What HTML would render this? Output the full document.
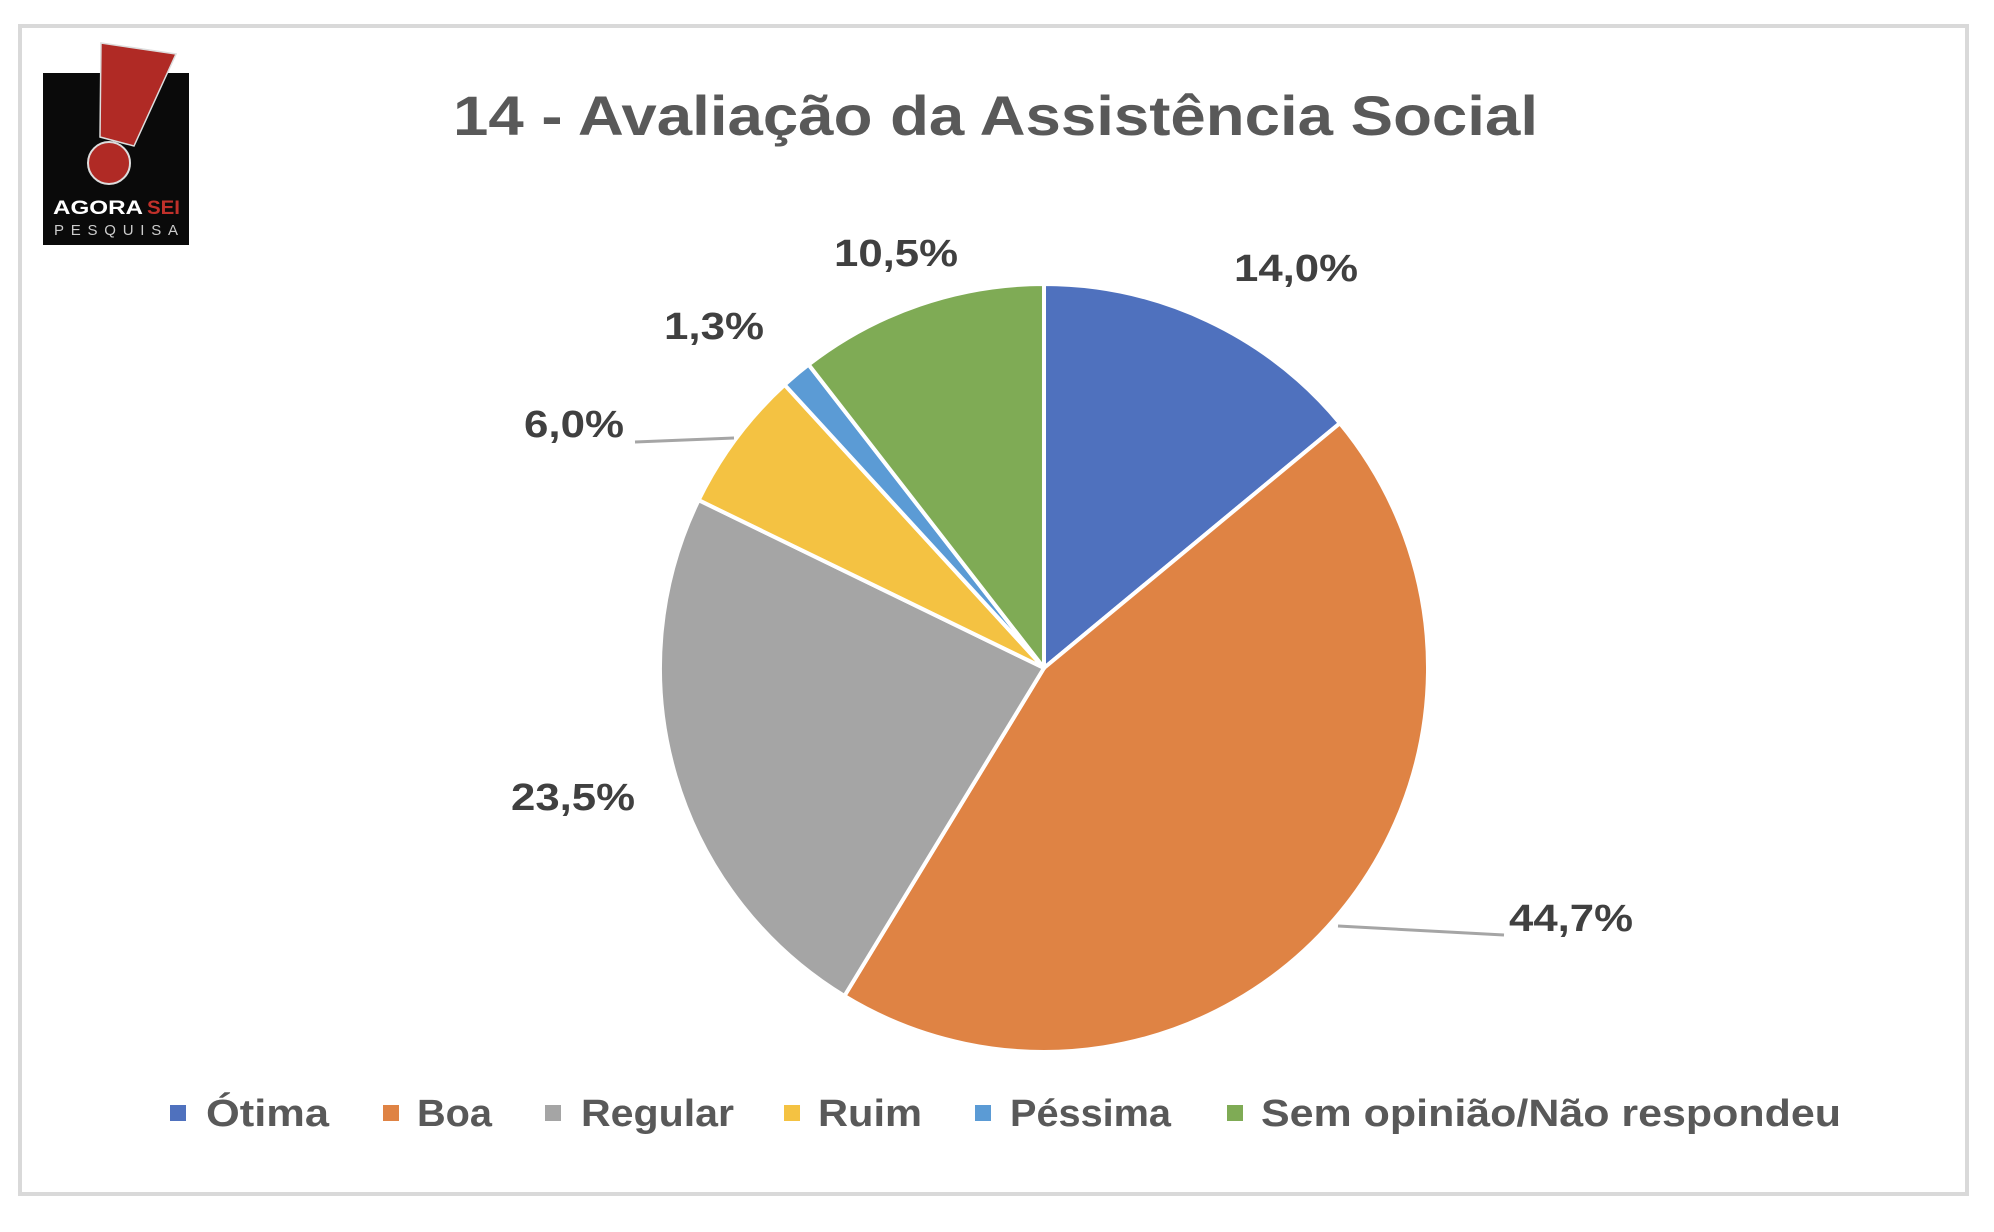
<!DOCTYPE html>
<html><head><meta charset="utf-8"><style>
html,body{margin:0;padding:0;background:#fff;}
svg{display:block;}
text{font-family:"Liberation Sans",sans-serif;}
</style></head><body>
<svg width="1994" height="1232" viewBox="0 0 1994 1232" xmlns="http://www.w3.org/2000/svg">
<rect x="0" y="0" width="1994" height="1232" fill="#fff"/>
<rect x="20" y="26" width="1947" height="1168" fill="#fff" stroke="#d9d9d9" stroke-width="4"/>
<!-- logo -->
<rect x="43" y="73" width="146" height="172" fill="#0a0a0a"/>
<polygon points="101,43 176,54 134,146 100,137" fill="#b02a25" stroke="#ddd" stroke-width="1.5"/>
<circle cx="109" cy="163" r="21" fill="#b02a25" stroke="#ddd" stroke-width="2"/>
<text x="53" y="214" font-size="19" font-weight="bold" fill="#fff" textLength="90" lengthAdjust="spacingAndGlyphs">AGORA</text>
<text x="147" y="214" font-size="19" font-weight="bold" fill="#c0302a" textLength="33" lengthAdjust="spacingAndGlyphs">SEI</text>
<text x="54" y="235" font-size="15" fill="#ccc" textLength="124" lengthAdjust="spacing">PESQUISA</text>
<!-- title -->
<text x="453" y="135" font-size="56" font-weight="bold" fill="#595959" textLength="1085" lengthAdjust="spacingAndGlyphs">14 - Avaliação da Assistência Social</text>
<!-- pie -->
<g stroke="#fff" stroke-width="4" stroke-linejoin="round">
<path d="M1044,668 L1044,284 A384,384 0 0 1 1339.9,423.2 Z" fill="#4f71be"/>
<path d="M1044,668 L1339.9,423.2 A384,384 0 0 1 844.4,996.0 Z" fill="#df8344"/>
<path d="M1044,668 L844.4,996.0 A384,384 0 0 1 698.6,500.1 Z" fill="#a5a5a5"/>
<path d="M1044,668 L698.6,500.1 A384,384 0 0 1 784.6,384.8 Z" fill="#f4c242"/>
<path d="M1044,668 L784.6,384.8 A384,384 0 0 1 808.6,364.6 Z" fill="#5b9bd5"/>
<path d="M1044,668 L808.6,364.6 A384,384 0 0 1 1044,284 Z" fill="#7fab55"/>
</g>
<!-- leader lines -->
<line x1="635" y1="442" x2="734" y2="438" stroke="#a5a5a5" stroke-width="3"/>
<line x1="1338" y1="926" x2="1504" y2="935" stroke="#a5a5a5" stroke-width="3"/>
<!-- labels -->
<g font-size="38" font-weight="bold" fill="#404040" text-anchor="middle">
<text x="1296" y="281" textLength="124" lengthAdjust="spacingAndGlyphs">14,0%</text>
<text x="1571" y="931" textLength="124" lengthAdjust="spacingAndGlyphs">44,7%</text>
<text x="573" y="810" textLength="124" lengthAdjust="spacingAndGlyphs">23,5%</text>
<text x="574" y="437" textLength="100" lengthAdjust="spacingAndGlyphs">6,0%</text>
<text x="714" y="339" textLength="100" lengthAdjust="spacingAndGlyphs">1,3%</text>
<text x="896" y="266" textLength="124" lengthAdjust="spacingAndGlyphs">10,5%</text>
</g>
<!-- legend -->
<g font-size="38" font-weight="bold" fill="#595959">
<rect x="170" y="1105" width="16" height="16" fill="#4f71be"/>
<text x="206" y="1126" textLength="123" lengthAdjust="spacingAndGlyphs">Ótima</text>
<rect x="383" y="1105" width="16" height="16" fill="#df8344"/>
<text x="417" y="1126" textLength="75" lengthAdjust="spacingAndGlyphs">Boa</text>
<rect x="545" y="1105" width="16" height="16" fill="#a5a5a5"/>
<text x="581" y="1126" textLength="153" lengthAdjust="spacingAndGlyphs">Regular</text>
<rect x="784" y="1105" width="16" height="16" fill="#f4c242"/>
<text x="818" y="1126" textLength="104" lengthAdjust="spacingAndGlyphs">Ruim</text>
<rect x="975" y="1105" width="16" height="16" fill="#5b9bd5"/>
<text x="1010" y="1126" textLength="161" lengthAdjust="spacingAndGlyphs">Péssima</text>
<rect x="1227" y="1105" width="16" height="16" fill="#7fab55"/>
<text x="1261" y="1126" textLength="580" lengthAdjust="spacingAndGlyphs">Sem opinião/Não respondeu</text>
</g>
</svg>
</body></html>
